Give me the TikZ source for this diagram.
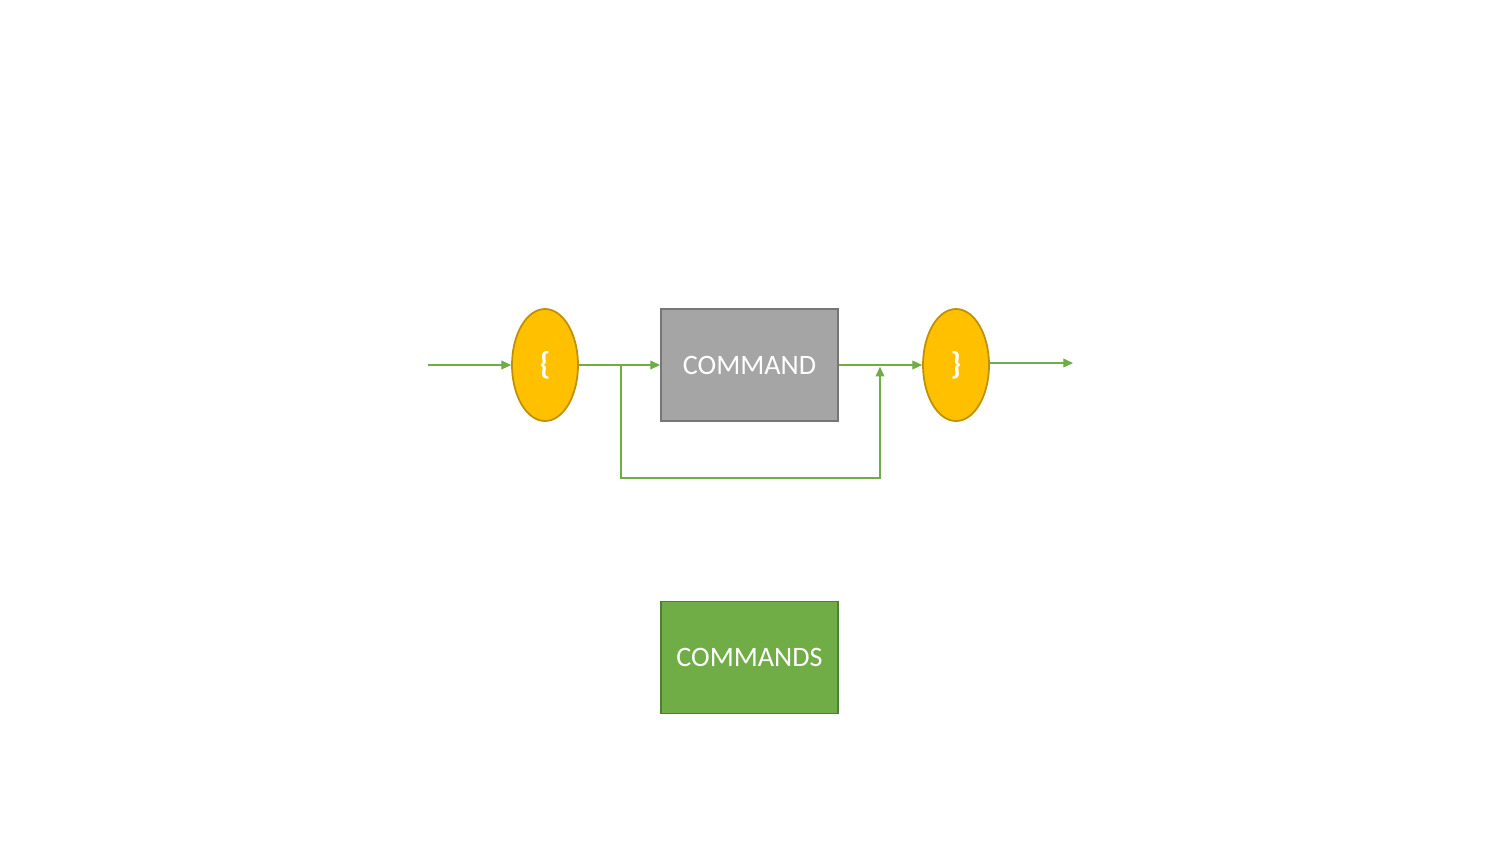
\documentclass[tikz,border=0pt]{standalone}
\usepackage{fontspec}
\setmainfont{Carlito}
\usetikzlibrary{arrows.meta,shapes.geometric}

\definecolor{braceyellow}{HTML}{FFC000}
\definecolor{braceedge}{HTML}{BF9000}
\definecolor{cmdgray}{HTML}{A5A5A5}
\definecolor{cmdedge}{HTML}{767676}
\definecolor{cmdsgreen}{HTML}{70AD47}
\definecolor{cmdsedge}{HTML}{507E32}
\definecolor{flowgreen}{HTML}{70AD47}

\begin{document}
\begin{tikzpicture}[
    brace/.style={ellipse,draw=braceedge,fill=braceyellow,line width=1pt,
        minimum width=1.32cm,minimum height=2.24cm,inner sep=0pt,
        text=white,font=\fontsize{18}{20}\selectfont\bfseries},
    cmdbox/.style={rectangle,draw=cmdedge,fill=cmdgray,line width=1.1pt,
        minimum width=3.54cm,minimum height=2.24cm,inner sep=0pt,
        text=white,font=\fontsize{16}{18}\selectfont},
    flow/.style={draw=flowgreen,line width=0.6pt,
        -{Triangle[length=5.5pt,width=5pt]}}
]
    % Page size (same proportions as the reference)
    \useasboundingbox (0,0) rectangle (30,-16.88);

    % Main row: open brace, command, close brace
    \node [brace]  (open)    at (10.90,-7.30) {\{};
    \node [cmdbox] (command) at (14.99,-7.30) {COMMAND};
    \node [brace]  (close)   at (19.12,-7.30) {\}};

    % Lone box below
    \node [cmdbox,fill=cmdsgreen,draw=cmdsedge] (commands) at (14.99,-13.15) {COMMANDS};

    % Free ends and bends of the loop
    \coordinate (in)    at (8.56,-7.30);
    \coordinate (out)   at (21.46,-7.26);
    \coordinate (split) at (12.42,-7.30);
    \coordinate (join)  at (17.60,-7.30);

    % Connectors:
    \draw [flow] (in) -- (open);
    \draw [flow] (open) -- (command);
    \draw [flow] (command) -- (close);
    \draw [flow] (close.east |- out) -- (out);
    % Skip path under the command box
    \draw [flow] (split) -- ++(0,-2.26) -| ([yshift=-1pt]join);
\end{tikzpicture}
\end{document}
